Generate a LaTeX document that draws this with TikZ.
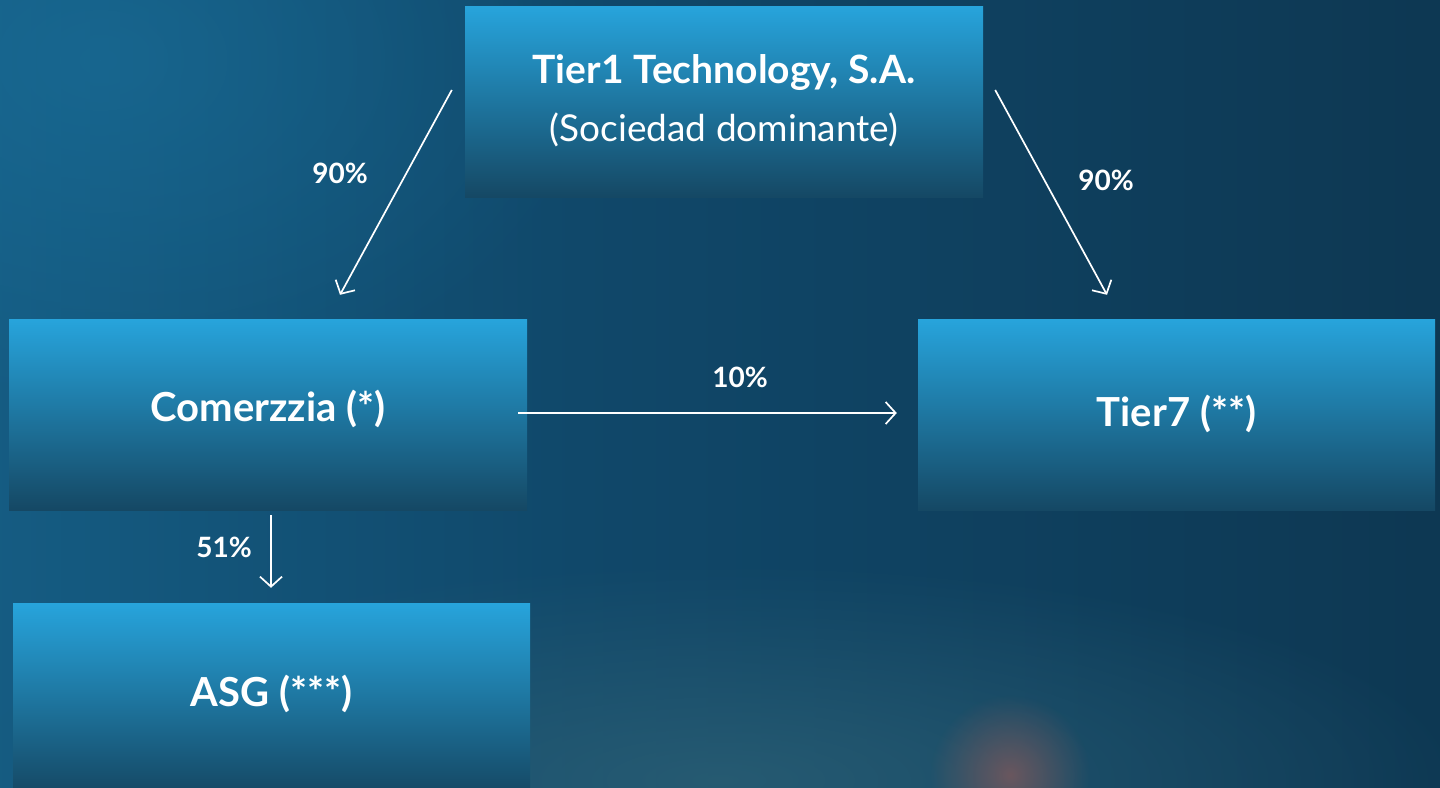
\documentclass[tikz,border=0pt]{standalone}
\usepackage{fontspec}
\setmainfont{Lato}
\usetikzlibrary{arrows.meta,calc,fadings}
\definecolor{bgL}{HTML}{1B74A0}
\definecolor{bgM}{HTML}{10486A}
\definecolor{bgR}{HTML}{0B2A3F}
\definecolor{boxT}{HTML}{27A4DC}
\definecolor{boxB}{HTML}{154864}
\definecolor{haze}{HTML}{2C6075}
\definecolor{bokeh}{HTML}{8A5A5A}
\pgfdeclarehorizontalshading{bgshade}{100bp}{color(0bp)=(bgL); color(45bp)=(bgM); color(100bp)=(bgR)}
\tikzfading[name=softcircle, inner color=transparent!0, outer color=transparent!100]
\tikzset{
  ent/.style={rectangle, minimum width=518pt, minimum height=191pt, inner sep=0pt,
    top color=boxT, bottom color=boxB, text=white, font=\bfseries\fontsize{40}{48}\selectfont, align=center},
  txt/.style={text=white, font=\bfseries\fontsize{40}{48}\selectfont, inner sep=0pt, align=center},
  arr/.style={draw=white, line width=1.7pt, -{Straight Barb[length=10pt,width=22pt,line width=1.7pt]}},
  pct/.style={text=white, font=\bfseries\fontsize{28}{32}\selectfont, inner sep=0pt}
}
\begin{document}
\begin{tikzpicture}[x=1pt,y=-1pt]
\useasboundingbox (0,0) rectangle (1440,787);
\clip (0,0) rectangle (1440,787);
% background
\shade[shading=bgshade, shading angle=0] (0,0) rectangle (1440,787);
\fill[bgL, opacity=0.5, path fading=softcircle] (100,60) ellipse (500pt and 350pt);
\fill[haze, opacity=0.8, path fading=softcircle] (720,780) ellipse (750pt and 220pt);
\fill[bokeh, opacity=0.7, path fading=softcircle] (1010,775) circle (80pt);
% nodes
\node[ent] (top) at (724,101.5) {};
\node[ent] (com) at (268,414.5) {};
\node[ent, minimum width=517pt] (t7) at (1176.5,414.5) {};
\node[ent, minimum width=517pt] (asg) at (271.5,698.5) {};
\node[txt, font=\bfseries\fontsize{39}{48}\selectfont] (topt) at ([yshift=29pt]top.center) {Tier1 Technology, S.A.};
\node[txt, font=\mdseries\fontsize{37}{44}\selectfont] (tops) at ([yshift=-28pt]top.center) {(Sociedad dominante)};
\node[txt] (comt) at ([yshift=6pt]com.center) {Comerzzia (*)};
\node[txt] (t7t) at ([yshift=1pt]t7.center) {Tier7 (**)};
\node[txt] (asgt) at ([yshift=5pt]asg.center) {ASG (***)};
% connectors
\draw[arr] ([xshift=-13pt,yshift=11.5pt]top.west) -- ([xshift=72pt,yshift=24pt]com.north);
\draw[arr] ([xshift=12pt,yshift=11.5pt]top.east) -- ([xshift=-69.5pt,yshift=24pt]t7.north);
\draw[arr] ([xshift=-9pt,yshift=1.5pt]com.east) -- ([xshift=-21pt,yshift=1.5pt]t7.west);
\draw[arr] ([xshift=3pt,yshift=-5pt]com.south) -- ([xshift=-0.5pt,yshift=15pt]asg.north);
% labels
\node[pct] (l1) at (340,173) {90\%};
\node[pct] (l2) at (1106,180) {90\%};
\node[pct] (l3) at (740,377) {10\%};
\node[pct] (l4) at (224,547) {51\%};
\end{tikzpicture}
\end{document}
